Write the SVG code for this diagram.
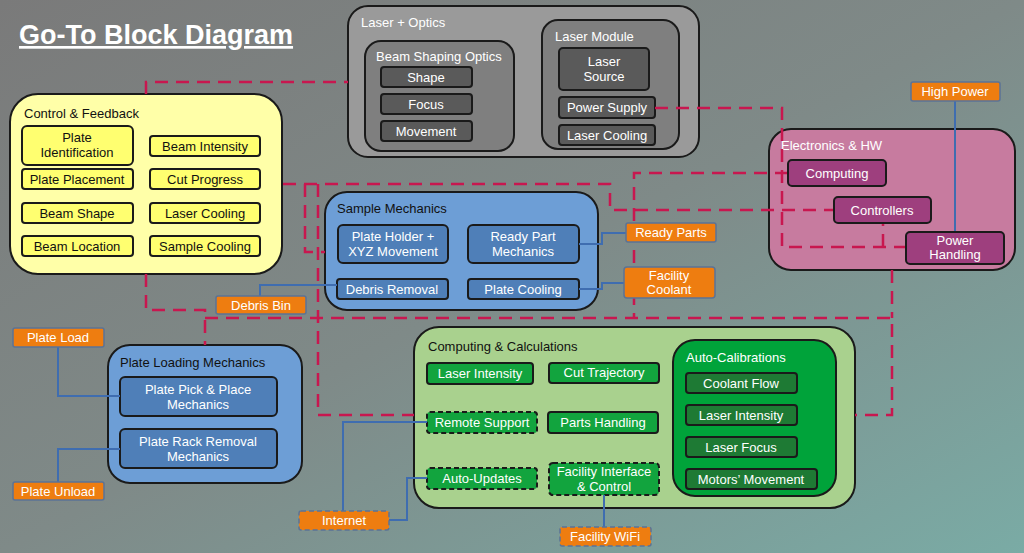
<svg xmlns="http://www.w3.org/2000/svg" width="1024" height="553" viewBox="0 0 1024 553">
<defs>
<linearGradient id="bg" x1="0" y1="0" x2="1" y2="1">
<stop offset="0" stop-color="#7a7a7a"/><stop offset="0.5" stop-color="#7f8a88"/><stop offset="1" stop-color="#7aaba5"/>
</linearGradient>
</defs>
<style>
text{font-family:"Liberation Sans",Arial,sans-serif;font-size:13px}
.c{text-anchor:middle}
.grp{stroke:#1a1a1a;stroke-width:2}
.in{stroke:#1a1a1a;stroke-width:2}
.dash{fill:none;stroke:#c8174f;stroke-width:2.5;stroke-dasharray:13 8}
.blue{fill:none;stroke:#3f6db0;stroke-width:2}
.or{fill:#ee7d10;stroke:#5b7396;stroke-width:1.5}
.ort{fill:#fff;text-anchor:middle}
.w{fill:#fff}
.k{fill:#111}
.dsh{stroke-dasharray:5 3}
</style>
<rect width="1024" height="553" fill="url(#bg)"/>
<text x="19" y="44" style="font-size:27px;font-weight:bold;fill:#fff;text-decoration:underline">Go-To Block Diagram</text>

<g id="laser-optics">
<rect class="grp" x="348" y="6" width="351" height="151" rx="20" fill="#9a9a9a"/>
<text x="361" y="27" class="w">Laser + Optics</text>
</g>
<g id="beam-shaping">
<rect class="grp" x="365" y="41" width="149" height="110" rx="16" fill="#7f7f7f"/>
<text x="376" y="61" class="w">Beam Shaping Optics</text>
<rect class="in" x="381" y="67" width="91" height="20" rx="3" fill="#5a5a5a"/><text x="426" y="82" class="w c">Shape</text>
<rect class="in" x="381" y="94" width="91" height="20" rx="3" fill="#5a5a5a"/><text x="426" y="109" class="w c">Focus</text>
<rect class="in" x="381" y="121" width="91" height="20" rx="3" fill="#5a5a5a"/><text x="426" y="136" class="w c">Movement</text>
</g>
<g id="laser-module">
<rect class="grp" x="542" y="20" width="137" height="129" rx="16" fill="#7f7f7f"/>
<text x="555" y="41" class="w">Laser Module</text>
<rect class="in" x="559" y="48" width="90" height="42" rx="4" fill="#5a5a5a"/><text x="604" y="66" class="w c">Laser</text><text x="604" y="81" class="w c">Source</text>
<rect class="in" x="559" y="97" width="96" height="21" rx="3" fill="#5a5a5a"/><text x="607" y="112" class="w c">Power Supply</text>
<rect class="in" x="559" y="125" width="96" height="20" rx="3" fill="#5a5a5a"/><text x="607" y="140" class="w c">Laser Cooling</text>
</g>

<g id="control-feedback">
<rect class="grp" x="10" y="94" width="272" height="180" rx="28" fill="#ffffa8"/>
<text x="24" y="118" class="k">Control &amp; Feedback</text>
<g fill="#ffff70">
<rect class="in" x="22" y="126" width="111" height="39" rx="5"/>
<rect class="in" x="150" y="136" width="110" height="20" rx="3"/>
<rect class="in" x="22" y="169" width="111" height="20" rx="3"/>
<rect class="in" x="150" y="169" width="110" height="20" rx="3"/>
<rect class="in" x="22" y="203" width="111" height="20" rx="3"/>
<rect class="in" x="150" y="203" width="110" height="20" rx="3"/>
<rect class="in" x="22" y="236" width="111" height="20" rx="3"/>
<rect class="in" x="150" y="236" width="110" height="20" rx="3"/>
</g>
<text x="77" y="142" class="k c">Plate</text><text x="77" y="157" class="k c">Identification</text>
<text x="205" y="151" class="k c">Beam Intensity</text>
<text x="77" y="184" class="k c">Plate Placement</text>
<text x="205" y="184" class="k c">Cut Progress</text>
<text x="77" y="218" class="k c">Beam Shape</text>
<text x="205" y="218" class="k c">Laser Cooling</text>
<text x="77" y="251" class="k c">Beam Location</text>
<text x="205" y="251" class="k c">Sample Cooling</text>
</g>

<g id="sample-mechanics">
<rect class="grp" x="325" y="192" width="273" height="118" rx="22" fill="#6d9ed6"/>
<text x="337" y="213" class="k">Sample Mechanics</text>
<g fill="#4f7fb8">
<rect class="in" x="338" y="225" width="110" height="38" rx="5"/>
<rect class="in" x="468" y="225" width="111" height="38" rx="5"/>
<rect class="in" x="337" y="279" width="111" height="20" rx="3"/>
<rect class="in" x="468" y="279" width="111" height="20" rx="3"/>
</g>
<text x="393" y="241" class="w c">Plate Holder +</text><text x="393" y="256" class="w c">XYZ Movement</text>
<text x="523" y="241" class="w c">Ready Part</text><text x="523" y="256" class="w c">Mechanics</text>
<text x="392" y="294" class="w c">Debris Removal</text>
<text x="523" y="294" class="w c">Plate Cooling</text>
</g>

<g id="electronics">
<rect class="grp" x="769" y="129" width="246" height="141" rx="22" fill="#c77b9f"/>
<text x="781" y="150" class="w">Electronics &amp; HW</text>
</g>

<g id="plate-loading">
<rect class="grp" x="108" y="345" width="194" height="138" rx="22" fill="#6d9ed6"/>
<text x="120" y="367" class="k">Plate Loading Mechanics</text>
<rect class="in" x="120" y="377" width="157" height="39" rx="5" fill="#4f7fb8"/>
<text x="198" y="394" class="w c">Plate Pick &amp; Place</text><text x="198" y="409" class="w c">Mechanics</text>
<rect class="in" x="120" y="429" width="157" height="39" rx="5" fill="#4f7fb8"/>
<text x="198" y="446" class="w c">Plate Rack Removal</text><text x="198" y="461" class="w c">Mechanics</text>
</g>

<g id="computing-calc">
<rect class="grp" x="414" y="327" width="441" height="181" rx="25" fill="#a9d18e"/>
<text x="428" y="351" class="k">Computing &amp; Calculations</text>
<g fill="#12a43e">
<rect class="in" x="427" y="363" width="106" height="21" rx="3"/>
<rect class="in" x="549" y="363" width="110" height="20" rx="3"/>
<rect class="in dsh" x="427" y="412" width="110" height="21" rx="3"/>
<rect class="in" x="548" y="412" width="110" height="21" rx="3"/>
<rect class="in dsh" x="427" y="468" width="110" height="21" rx="3"/>
<rect class="in dsh" x="549" y="463" width="110" height="32" rx="4"/>
</g>
<text x="480" y="378" class="w c">Laser Intensity</text>
<text x="604" y="377" class="w c">Cut Trajectory</text>
<text x="482" y="427" class="w c">Remote Support</text>
<text x="603" y="427" class="w c">Parts Handling</text>
<text x="482" y="483" class="w c">Auto-Updates</text>
<text x="604" y="476" class="w c">Facility Interface</text><text x="604" y="491" class="w c">&amp; Control</text>
</g>

<g id="auto-calibrations">
<rect class="grp" x="673" y="340" width="163" height="156" rx="22" fill="#00a33a"/>
<text x="686" y="362" class="w">Auto-Calibrations</text>
<g fill="#1e7a34">
<rect class="in" x="686" y="373" width="111" height="20" rx="3"/>
<rect class="in" x="686" y="405" width="111" height="20" rx="3"/>
<rect class="in" x="686" y="437" width="111" height="20" rx="3"/>
<rect class="in" x="686" y="469" width="131" height="20" rx="3"/>
</g>
<text x="741" y="388" class="w c">Coolant Flow</text>
<text x="741" y="420" class="w c">Laser Intensity</text>
<text x="741" y="452" class="w c">Laser Focus</text>
<text x="751" y="484" class="w c">Motors’ Movement</text>
</g>

<g id="connectors">
<path class="dash" d="M146,94 V82 H348"/>
<path class="dash" d="M283,184 H610 V210 H834"/>
<path class="dash" d="M305,184 V252 H325"/>
<path class="dash" d="M318,184 V415 H414"/>
<path class="dash" d="M146,274 V310 H205 V345"/>
<path class="dash" d="M205,318 H892 V415 H855"/>
<path class="dash" d="M892,270 V318"/>
<path class="dash" d="M788,173 H634 V318"/>
<path class="dash" d="M655,108 H782 V247 H906"/>
<path class="dash" d="M883,247 V223"/>
<path class="blue" d="M260,296 V285 H337"/>
<path class="blue" d="M579,244 H602 V233 H626"/>
<path class="blue" d="M579,289 H602 V283 H624"/>
<path class="blue" d="M955,101 V232"/>
<path class="blue" d="M58,347 V396 H120"/>
<path class="blue" d="M58,482 V449 H120"/>
<path class="blue" d="M343,511 V422 H427"/>
<path class="blue" d="M389,520 H407 V478 H427"/>
<path class="blue" d="M604,527 V495"/>
</g>

<g id="computing"><rect class="in" x="788" y="160" width="98" height="26" rx="4" fill="#9e3f7e"/><text x="837" y="178" class="w c">Computing</text></g>
<g id="controllers"><rect class="in" x="834" y="197" width="97" height="26" rx="4" fill="#9e3f7e"/><text x="882" y="215" class="w c">Controllers</text></g>
<g id="power-handling"><rect class="in" x="906" y="232" width="98" height="32" rx="4" fill="#9e3f7e"/><text x="955" y="245" class="w c">Power</text><text x="955" y="259" class="w c">Handling</text></g>

<g id="high-power"><rect class="or" x="911" y="82" width="89" height="19" rx="2"/><text x="955" y="96" class="ort">High Power</text></g>
<g id="ready-parts"><rect class="or" x="626" y="223" width="90" height="19" rx="2"/><text x="671" y="237" class="ort">Ready Parts</text></g>
<g id="facility-coolant"><rect class="or" x="624" y="267" width="91" height="31" rx="3"/><text x="669" y="280" class="ort">Facility</text><text x="669" y="294" class="ort">Coolant</text></g>
<g id="debris-bin"><rect class="or" x="216" y="296" width="90" height="18" rx="2"/><text x="261" y="310" class="ort">Debris Bin</text></g>
<g id="plate-load"><rect class="or" x="13" y="328" width="91" height="19" rx="2"/><text x="58" y="342" class="ort">Plate Load</text></g>
<g id="plate-unload"><rect class="or" x="13" y="482" width="91" height="18" rx="2"/><text x="58" y="496" class="ort">Plate Unload</text></g>
<g id="internet"><rect class="or dsh" x="299" y="511" width="90" height="19" rx="2"/><text x="344" y="525" class="ort">Internet</text></g>
<g id="facility-wifi"><rect class="or dsh" x="560" y="527" width="91" height="19" rx="2"/><text x="605" y="541" class="ort">Facility WiFi</text></g>
</svg>
